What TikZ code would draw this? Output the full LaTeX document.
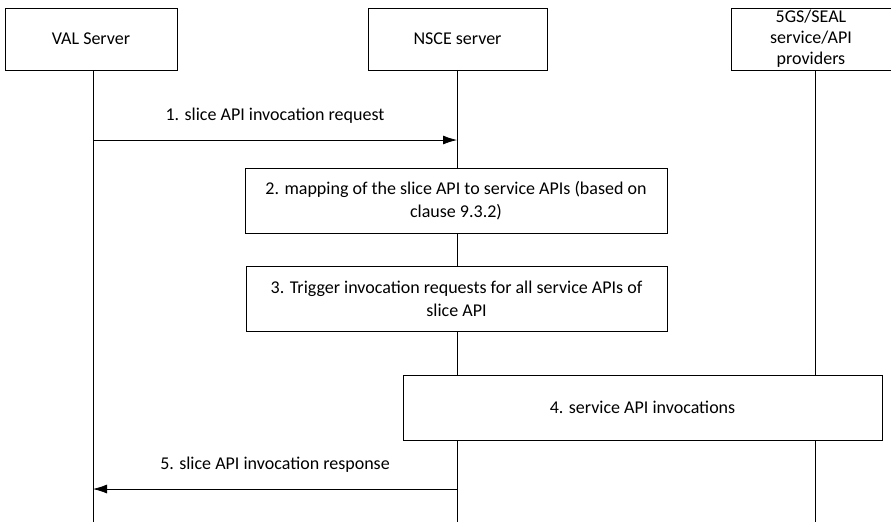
\documentclass[tikz,border=0pt]{standalone}
\usepackage{fontspec}
\setmainfont{Carlito}
\usetikzlibrary{arrows.meta}

\begin{document}
\begin{tikzpicture}[x=1pt,y=-1pt,line width=0.8pt]
	\tikzstyle{actor}=[draw,fill=white,minimum height=62pt,align=center,inner sep=0pt,font=\fontsize{18}{21}\selectfont];
	\tikzstyle{stepbox}=[draw,fill=white,minimum height=65pt,align=center,inner sep=0pt,font=\fontsize{18}{23}\selectfont];
	\tikzstyle{msg}=[-{Latex[length=14pt,width=9pt]}];
	\tikzstyle{lbl}=[font=\fontsize{18}{21}\selectfont];

	\useasboundingbox (0,0) rectangle (891,522);

	% lifelines
	\coordinate (valend)  at (93,522);
	\coordinate (nsceend) at (457,522);
	\coordinate (provend) at (815,522);
	\draw (93,70)  -- (valend);
	\draw (457,70) -- (nsceend);
	\draw (815,70) -- (provend);

	% participants
	\node[actor,minimum width=172pt] (val)  at (91,39)    {VAL Server};
	\node[actor,minimum width=179pt] (nsce) at (457.5,39) {NSCE server};
	\node[actor,minimum width=160pt] (prov) at (811,39)   {5GS/SEAL\\service/API\\providers};

	% 1.
	\coordinate (v1) at (93,140);
	\coordinate (n1) at (457,140);
	\draw[msg] (v1) -- (n1);
	\node[lbl] (m1) at (275,116) {1. slice API invocation request};

	% 2. - 4.
	\node[stepbox,minimum width=422pt] (s2) at (456,200.5)
		{2. mapping of the slice API to service APIs (based on\\clause 9.3.2)};
	\node[stepbox,minimum width=421pt] (s3) at (456.5,298.5)
		{3. Trigger invocation requests for all service APIs of\\slice API};
	\node[stepbox,minimum width=479pt] (s4) at (642.5,407.5) {4. service API invocations};

	% 5.
	\coordinate (n5) at (457,489);
	\coordinate (v5) at (93,489);
	\draw[msg] (n5) -- (v5);
	\node[lbl] (m5) at (275,465) {5. slice API invocation response};
\end{tikzpicture}
\end{document}
